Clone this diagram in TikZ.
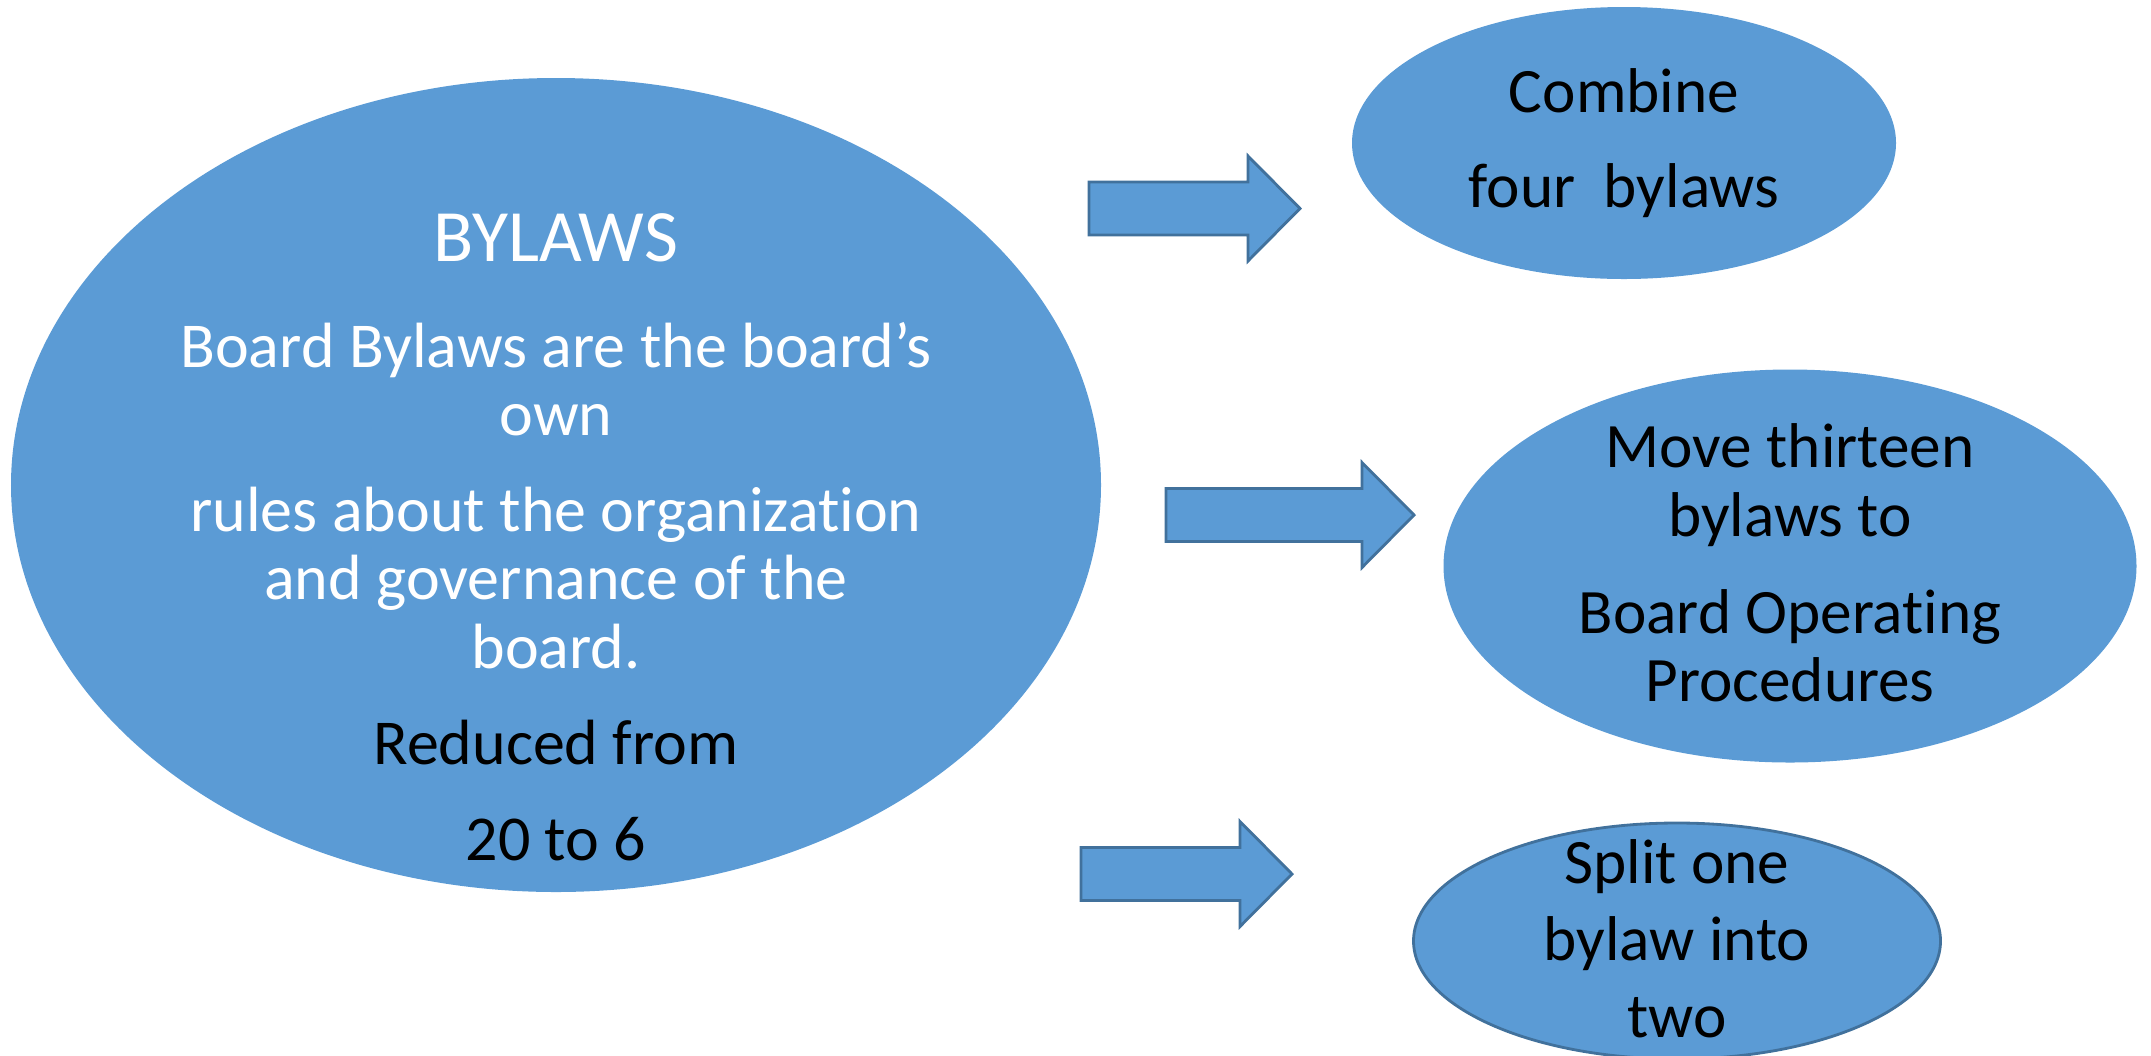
\documentclass[tikz,border=0pt]{standalone}
\usepackage{fontspec}
\setmainfont[RawFeature={-liga;-clig;-calt;-dlig}]{Carlito}
\usetikzlibrary{shapes.geometric}
\definecolor{ovalfill}{HTML}{5B9BD5}
\definecolor{ovalline}{HTML}{41719C}
\tikzset{
	oval/.style={ellipse,fill=ovalfill,inner sep=0pt},
	ovaledge/.style={oval,draw=ovalline,line width=0.8pt},
	arrowbox/.style={fill=ovalfill,draw=ovalline,line width=0.8pt},
	maintext/.style={align=center,inner sep=0pt,anchor=base,text=white,
		font=\fontsize{18.2}{19.35}\selectfont},
	sidetext/.style={align=center,inner sep=0pt,anchor=base,
		font=\fontsize{18}{19.35}\selectfont},
}
\begin{document}
\begin{tikzpicture}
	\useasboundingbox (0,0) rectangle (21.51,10.55);
	% ovals
	\node[oval,minimum width=10.9cm,minimum height=8.14cm] (bylaws) at (5.56,5.70) {};
	\node[oval,minimum width=5.44cm,minimum height=2.72cm] (combine) at (16.24,9.12) {};
	\node[oval,minimum width=6.93cm,minimum height=3.93cm] (move) at (17.90,4.89) {};
	\node[ovaledge,minimum width=5.27cm,minimum height=2.36cm] (split) at (16.77,1.14) {};
	% block arrows
	\foreach \x/\y/\l in {10.89/8.465/2.11, 11.66/5.40/2.48, 10.81/1.81/2.11} {
		\draw[arrowbox] (\x,\y-0.265) -- ++(\l-0.52,0) -- ++(0,-0.26) -- (\x+\l,\y)
			-- (\x+\l-0.52,\y+0.525) -- ++(0,-0.26) -- (\x,\y+0.265) -- cycle;
	}
	% texts (anchored at the last line)
	\node[maintext] (bylawstext) at (5.56,1.95) {{\fontsize{21}{22}\selectfont BYLAWS}\\[0.38cm]
		Board Bylaws are the board’s\\ own\\[0.28cm]
		rules about the organization\\ and governance of the\\ board.\\[0.28cm]
		{\color{black}Reduced from}\\[0.28cm] {\color{black}20 to 6}};
	\node[sidetext] (combinetext) at (16.24,8.48) {Combine\\[0.26cm] four\ \ bylaws};
	\node[sidetext] (movetext) at (17.90,3.54) {Move thirteen\\ bylaws to\\[0.29cm]
		Board Operating\\ Procedures};
	\node[sidetext,font=\fontsize{18}{21.9}\selectfont] (splittext) at (16.77,0.18) {Split one\\ bylaw into\\ two};
\end{tikzpicture}
\end{document}
